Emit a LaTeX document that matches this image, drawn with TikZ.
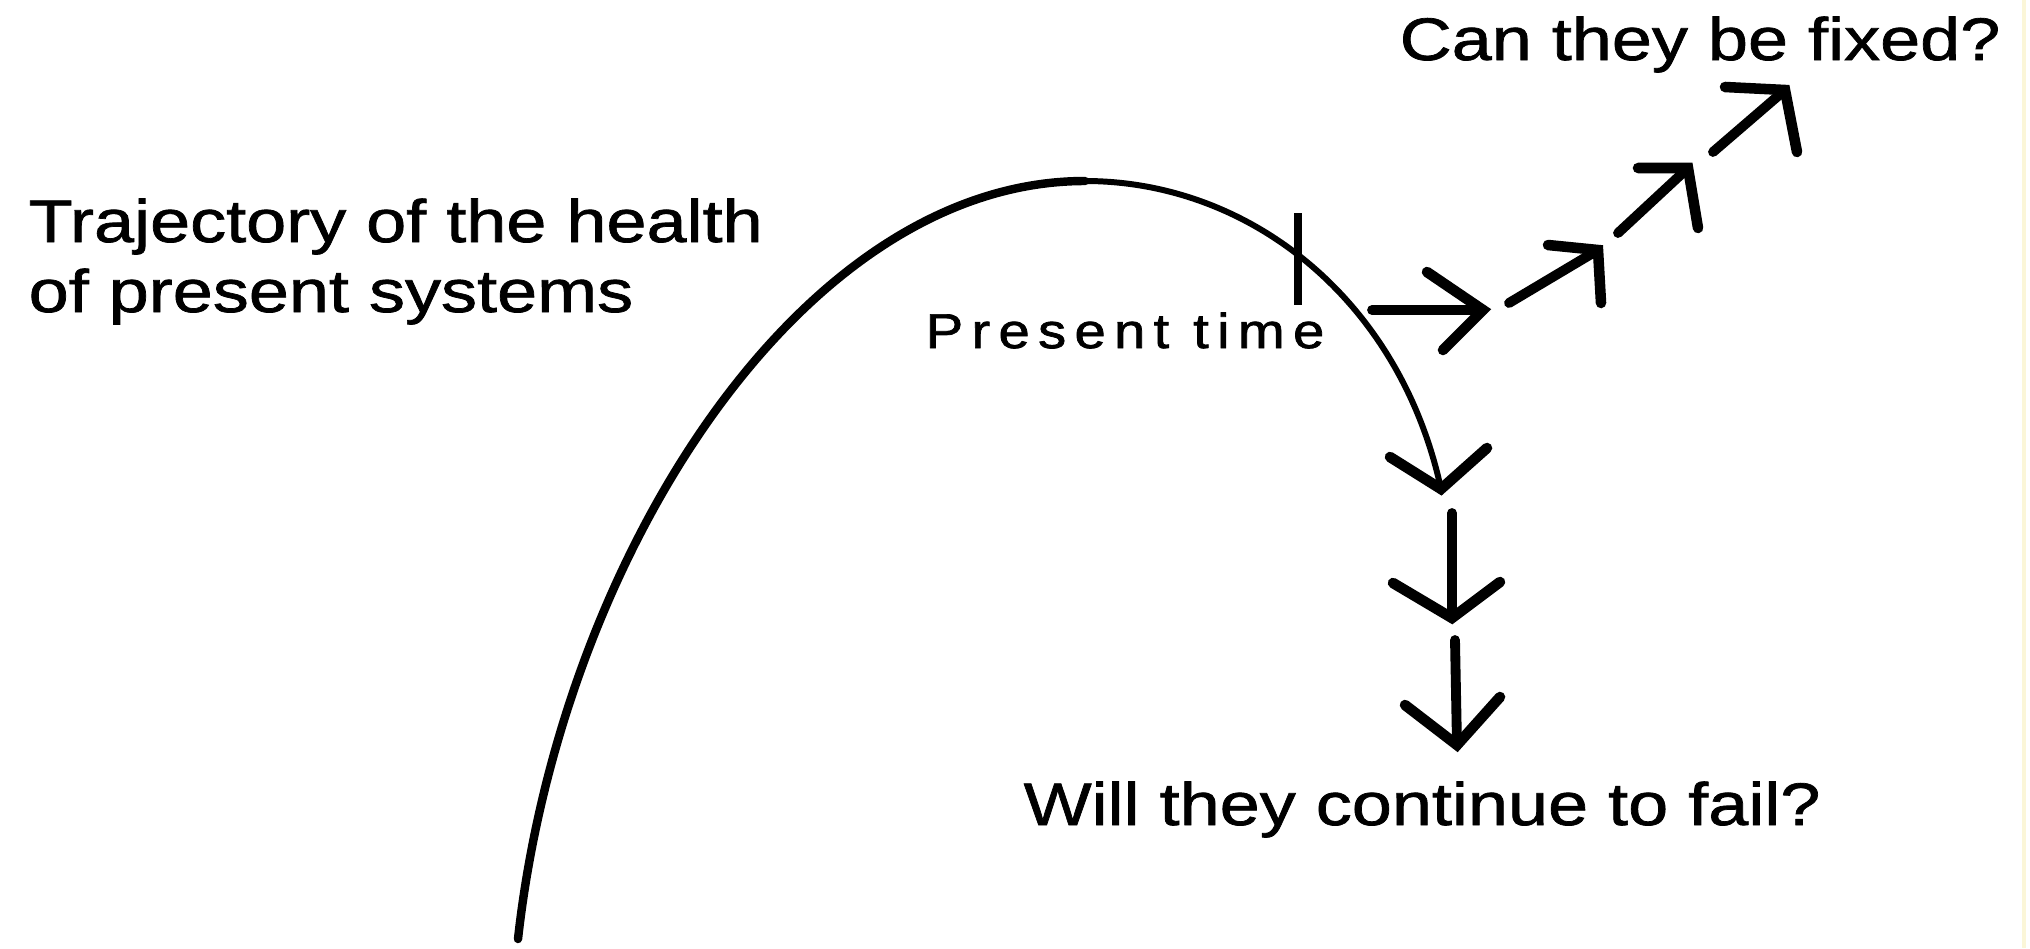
\documentclass[tikz,border=0pt]{standalone}
\usepackage{fontspec}
\setmainfont{Liberation Sans}
\newfontfamily\labelfont[FakeStretch=1.2,FakeBold=1.2]{Liberation Sans}
\newfontfamily\markfont[FakeStretch=1.15,LetterSpace=17,FakeBold=1.5]{Liberation Sans}
\definecolor{edgeyellow}{HTML}{FBF6D8}
\begin{document}
\begin{tikzpicture}[x=0.01cm,y=-0.01cm,
  curvethick/.style={line width=2.4pt,line cap=round},
  curvethin/.style={line width=1.7pt,line cap=round},
  tickmark/.style={line width=2pt},
  shaft/.style={line width=2.8pt,line cap=round},
  chevron/.style={line width=3pt,line cap=round,line join=miter},
  bigtext/.style={inner sep=0pt,anchor=base west,font=\labelfont\fontsize{17.07pt}{19.9pt}\selectfont},
  smalltext/.style={inner sep=0pt,anchor=base west,font=\markfont\fontsize{13.9pt}{16pt}\selectfont}]
\useasboundingbox (0,0) rectangle (2030,948);
\fill[white] (0,0) rectangle (2030,948);
\draw[edgeyellow,line width=1.2pt] (2024,0) -- (2024,948);

% health trajectory: rise, peak, and fall
\coordinate (start) at (518,939);
\coordinate (peak) at (1085,181);
\coordinate (fallend) at (1441,489);
\draw[curvethick] (start) .. controls (560,560) and (800,181) .. (peak);
\draw[curvethin] (peak) .. controls (1250,181) and (1400,300) .. (fallend);
\draw[chevron] (1390,457) -- (fallend) -- (1487,448);

% present-time mark on the curve
\coordinate (ticktop) at (1298,213);
\coordinate (tickbot) at (1298,305);
\draw[tickmark] (ticktop) -- (tickbot);

% downward path
\coordinate (d1a) at (1452,513);
\coordinate (d1b) at (1452,618);
\draw[shaft] (d1a) -- (d1b);
\draw[chevron] (1393,583) -- (d1b) -- (1500,582);
\coordinate (d2a) at (1455,640);
\coordinate (d2b) at (1457,745);
\draw[shaft] (d2a) -- (d2b);
\draw[chevron] (1405,705) -- (d2b) -- (1500,697);

% horizontal step then upward path
\coordinate (h1a) at (1372,310);
\coordinate (h1b) at (1483,310);
\draw[shaft] (h1a) -- (h1b);
\draw[chevron] (1427,272) -- (h1b) -- (1443,350);
\coordinate (u1a) at (1509,303);
\coordinate (u1b) at (1598,250);
\draw[shaft] (u1a) -- (u1b);
\draw[chevron] (1548,245) -- (u1b) -- (1601,303);
\coordinate (u2a) at (1618,233);
\coordinate (u2b) at (1688,168);
\draw[shaft] (u2a) -- (u2b);
\draw[chevron] (1638,168) -- (u2b) -- (1698,228);
\coordinate (u3a) at (1713,152);
\coordinate (u3b) at (1785,90);
\draw[shaft] (u3a) -- (u3b);
\draw[chevron] (1725,87) -- (u3b) -- (1797,152);

% labels
\node[bigtext,align=left] (traj) at (28,312) {Trajectory of the health\\of present systems};
\node[bigtext] (fixed) at (1399,60) {Can they be fixed?};
\node[bigtext] (fail) at (1023,825) {Will they continue to fail?};
\node[smalltext] (present) at (925,348) {Present time};
\end{tikzpicture}
\end{document}
